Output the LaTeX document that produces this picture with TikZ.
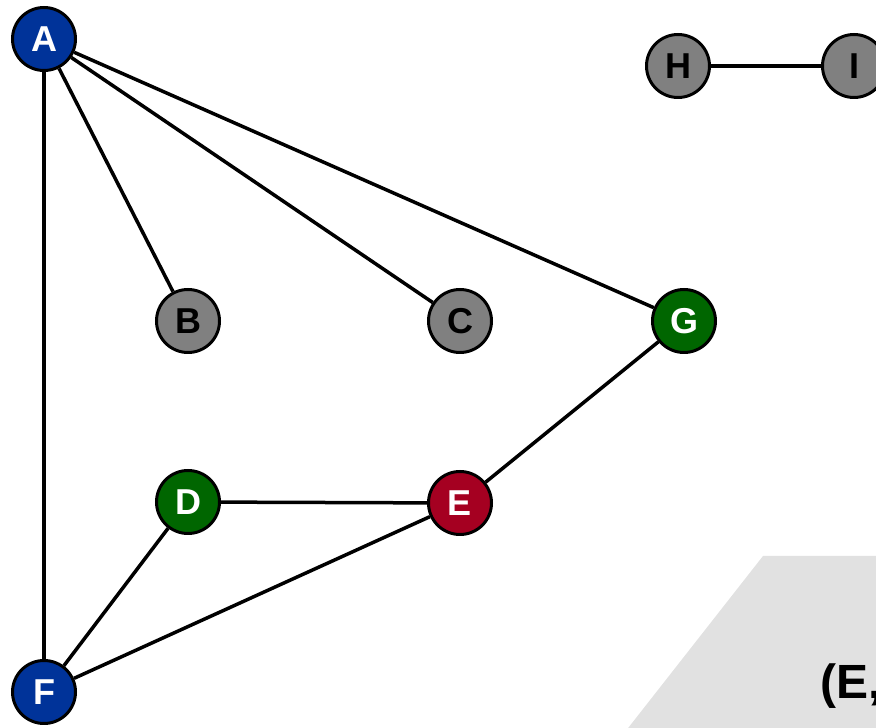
\documentclass[tikz,border=0pt]{standalone}
\usepackage{fontspec}
\setmainfont{Liberation Sans}
\definecolor{nblue}{HTML}{003399}
\definecolor{ngreen}{HTML}{006600}
\definecolor{nred}{HTML}{A50021}
\definecolor{ngray}{HTML}{808080}
\definecolor{panel}{HTML}{E1E1E1}
\begin{document}
\begin{tikzpicture}[x=1pt,y=1pt,
  vert/.style={circle,draw=black,line width=3pt,minimum size=63pt,inner sep=0pt,font=\fontsize{36}{36}\selectfont\bfseries},
  grayv/.style={vert,fill=ngray,text=black},
  bluev/.style={vert,fill=nblue,text=white},
  greenv/.style={vert,fill=ngreen,text=white},
  redv/.style={vert,fill=nred,text=white},
  edge/.style={line width=3.5pt,draw=black}]
\useasboundingbox (0,0) rectangle (876,728);
\clip (0,0) rectangle (876,728);
\fill[panel] (763,172) -- (880,172) -- (880,-4) -- (625,-4) -- cycle;
\node[anchor=base west,inner sep=0pt,font=\fontsize{48}{48}\selectfont\bfseries] (lbl) at (820,29) {(E,};
\node[bluev] (A) at (44,689) {A};
\node[grayv] (B) at (188,407) {B};
\node[grayv] (C) at (460,407) {C};
\node[greenv] (G) at (684,407) {G};
\node[greenv] (D) at (188,226) {D};
\node[redv] (E) at (460,225) {E};
\node[bluev] (F) at (44,36) {F};
\node[grayv] (H) at (678,662) {H};
\node[grayv] (I) at (854,662) {I};
\draw[edge] (A) -- (B);
\draw[edge] (A) -- (C);
\draw[edge] (A) -- (G);
\draw[edge] (A) -- (F);
\draw[edge] (G) -- (E);
\draw[edge] (D) -- (E);
\draw[edge] (D) -- (F);
\draw[edge] (E) -- (F);
\draw[edge] (H) -- (I);
\end{tikzpicture}
\end{document}
